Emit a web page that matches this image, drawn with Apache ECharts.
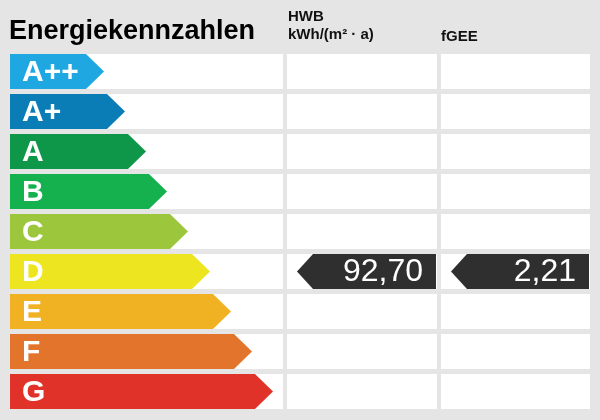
<!DOCTYPE html>
<html><head><meta charset="utf-8">
<script src="https://cdn.jsdelivr.net/npm/echarts@6/dist/echarts.min.js"></script>
<style>html,body{margin:0;padding:0;background:#e5e5e5}#c{width:600px;height:420px}</style>
</head><body><div id="c"></div>
<script>
// ---- data ----
const classes = ['A++', 'A+', 'A', 'B', 'C', 'D', 'E', 'F', 'G'];
const classArrowEnds = [94, 115, 136, 157, 178, 200, 221, 242, 263];
const indicatorNames = ['HWB', 'fGEE'];
const indicatorUnits = ['kWh/(m² · a)', ''];
const indicatorValues = ['92,70', '2,21'];
const indicatorClasses = ['D', 'D'];
const chartTitle = 'Energiekennzahlen';

// ---- styles / layout ----
const classColors = ['#1ea7e1', '#0b7db6', '#0e9748', '#16b14f', '#9cc63b', '#ece51f', '#f0b122', '#e3742b', '#e1322a'];
const columnRanges = [[0, 273], [277, 427], [431, 580]];
const font = 'Liberation Sans, Arial, Helvetica, sans-serif';

function rowBox(api, idx) {
  const c = api.coord([0, idx]);
  const band = api.size([0, 1])[1];
  const h = band * 0.875;
  return { cy: c[1], top: c[1] - h / 2 - 0.5, h: h };
}

function renderCells(params, api) {
  const idx = api.value(0);
  const rb = rowBox(api, idx);
  return {
    type: 'group',
    children: columnRanges.map(r => {
      const x0 = api.coord([r[0], idx])[0];
      const x1 = api.coord([r[1], idx])[0];
      return { type: 'rect', shape: { x: x0, y: rb.top, width: x1 - x0, height: rb.h }, style: { fill: '#ffffff' } };
    })
  };
}

function renderArrow(params, api) {
  const end = api.value(0);
  const idx = api.value(1);
  const rb = rowBox(api, idx);
  const x0 = api.coord([0, idx])[0];
  const tip = api.coord([end, idx])[0];
  const head = 18;
  const top = rb.top, bot = rb.top + rb.h, mid = rb.top + rb.h / 2;
  return {
    type: 'group',
    children: [
      { type: 'polygon', shape: { points: [[x0, top], [tip - head, top], [tip, mid], [tip - head, bot], [x0, bot]] },
        style: { fill: classColors[idx] } },
      { type: 'text', x: x0 + 12, y: mid + 1.5,
        style: { text: classes[idx], fill: '#ffffff', font: 'bold 30px ' + font, verticalAlign: 'middle', align: 'left' } }
    ]
  };
}

function renderMarker(params, api) {
  const col = api.value(0);
  const idx = api.value(1);
  const rb = rowBox(api, idx);
  const range = columnRanges[col + 1];
  const tip = api.coord([range[0] + 10, idx])[0];
  const right = api.coord([range[1] - 1, idx])[0];
  const head = 16;
  const top = rb.top, bot = rb.top + rb.h, mid = rb.top + rb.h / 2;
  return {
    type: 'group',
    children: [
      { type: 'polygon', shape: { points: [[tip, mid], [tip + head, top], [right, top], [right, bot], [tip + head, bot]] },
        style: { fill: '#2f2f2f' } },
      { type: 'text', x: right - 13, y: mid + 1,
        style: { text: indicatorValues[col], fill: '#ffffff', font: '32px ' + font, verticalAlign: 'middle', align: 'right' } }
    ]
  };
}

const chart = echarts.init(document.getElementById('c'));
chart.setOption({
  backgroundColor: '#e5e5e5',
  animation: false,
  grid: { left: 10, right: 10, top: 52, bottom: 8 },
  xAxis: { type: 'value', min: 0, max: 580, show: false },
  yAxis: { type: 'category', data: classes, inverse: true, show: false },
  graphic: [
    { type: 'text', x: 9, y: 32, style: { text: chartTitle, fill: '#000000', font: 'bold 27px ' + font, verticalAlign: 'middle' } },
    { type: 'text', x: 288, y: 17, style: { text: indicatorNames[0], fill: '#111111', font: 'bold 15px ' + font, verticalAlign: 'middle' } },
    { type: 'text', x: 288, y: 34.5, style: { text: indicatorUnits[0], fill: '#111111', font: 'bold 15px ' + font, verticalAlign: 'middle' } },
    { type: 'text', x: 441, y: 36.5, style: { text: indicatorNames[1], fill: '#111111', font: 'bold 15px ' + font, verticalAlign: 'middle' } }
  ],
  series: [
    { type: 'custom', renderItem: renderCells, data: classes.map((c, i) => [i]), encode: { y: 0 }, silent: true },
    { type: 'custom', renderItem: renderArrow, data: classArrowEnds.map((v, i) => [v, i]), encode: { x: 0, y: 1 }, silent: true },
    { type: 'custom', renderItem: renderMarker,
      data: indicatorClasses.map((c, i) => [i, classes.indexOf(c)]), encode: { y: 1 }, silent: true }
  ]
});
</script>
</body></html>
